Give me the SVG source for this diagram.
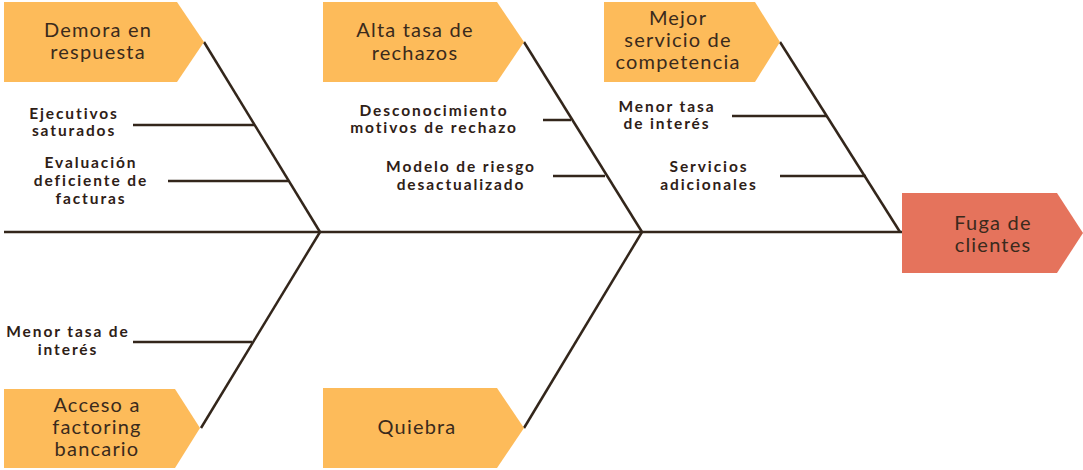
<svg xmlns="http://www.w3.org/2000/svg" width="1083" height="470" viewBox="0 0 1083 470">
<style>
.box{fill:#FDBB5A}
.effect{fill:#E5735C}
.t{font-family:Lato,"Noto Sans",sans-serif;font-size:20px;fill:#3a2a1c;text-anchor:middle;letter-spacing:1.2px}
.s{font-family:Lato,"Noto Sans",sans-serif;font-size:15.5px;font-weight:bold;fill:#2e2016;text-anchor:middle;letter-spacing:1.9px}
.ln{stroke:#33261b;stroke-width:2.5;fill:none}
</style>
<rect width="1083" height="470" fill="#fff"/>
<g id="connectors">
<line class="ln" x1="4" y1="232" x2="902" y2="232"/>
<line class="ln" x1="204" y1="42" x2="320" y2="232"/>
<line class="ln" x1="524" y1="42" x2="642" y2="232"/>
<line class="ln" x1="780" y1="42" x2="900" y2="232"/>
<line class="ln" x1="201" y1="428" x2="320" y2="232"/>
<line class="ln" x1="524" y1="428" x2="642" y2="232"/>
<line class="ln" x1="133" y1="125" x2="254" y2="125"/>
<line class="ln" x1="168" y1="181" x2="288" y2="181"/>
<line class="ln" x1="543" y1="120" x2="571" y2="120"/>
<line class="ln" x1="553" y1="176" x2="605" y2="176"/>
<line class="ln" x1="732" y1="116" x2="827" y2="116"/>
<line class="ln" x1="780" y1="176" x2="866" y2="176"/>
<line class="ln" x1="133" y1="342" x2="252" y2="342"/>
</g>
<g id="demora">
<polygon class="box" points="4,2 177,2 204,42 177,82 4,82"/>
<text class="t" x="98" y="37">Demora en</text>
<text class="t" x="98" y="59">respuesta</text>
</g>
<g id="rechazos">
<polygon class="box" points="323,2 497,2 524,42 497,82 323,82"/>
<text class="t" x="415" y="37">Alta tasa de</text>
<text class="t" x="415" y="60">rechazos</text>
</g>
<g id="competencia">
<polygon class="box" points="604,2 755,2 780,42 755,82 604,82"/>
<text class="t" x="678" y="25">Mejor</text>
<text class="t" x="678" y="47">servicio de</text>
<text class="t" x="678" y="69">competencia</text>
</g>
<g id="fuga">
<polygon class="effect" points="902,193 1057,193 1083,233 1057,273 902,273"/>
<text class="t" x="993" y="230">Fuga de</text>
<text class="t" x="993" y="252">clientes</text>
</g>
<g id="acceso">
<polygon class="box" points="4,389 175,389 200,428 175,468 4,468"/>
<text class="t" x="97" y="412">Acceso a</text>
<text class="t" x="97" y="434">factoring</text>
<text class="t" x="97" y="456">bancario</text>
</g>
<g id="quiebra">
<polygon class="box" points="323,388 497,388 524,428 497,468 323,468"/>
<text class="t" x="417" y="434">Quiebra</text>
</g>
<g id="ejecutivos">
<text class="s" x="74" y="119">Ejecutivos</text>
<text class="s" x="74" y="136">saturados</text>
</g>
<g id="evaluacion">
<text class="s" x="91" y="168">Evaluación</text>
<text class="s" x="91" y="186">deficiente de</text>
<text class="s" x="91" y="204">facturas</text>
</g>
<g id="desconocimiento">
<text class="s" x="434" y="116">Desconocimiento</text>
<text class="s" x="434" y="133">motivos de rechazo</text>
</g>
<g id="modelo">
<text class="s" x="461" y="172">Modelo de riesgo</text>
<text class="s" x="461" y="190">desactualizado</text>
</g>
<g id="menor-tasa-1">
<text class="s" x="667" y="112">Menor tasa</text>
<text class="s" x="667" y="129">de interés</text>
</g>
<g id="servicios">
<text class="s" x="709" y="172">Servicios</text>
<text class="s" x="709" y="190">adicionales</text>
</g>
<g id="menor-tasa-2">
<text class="s" x="68" y="337">Menor tasa de</text>
<text class="s" x="68" y="355">interés</text>
</g>
</svg>
